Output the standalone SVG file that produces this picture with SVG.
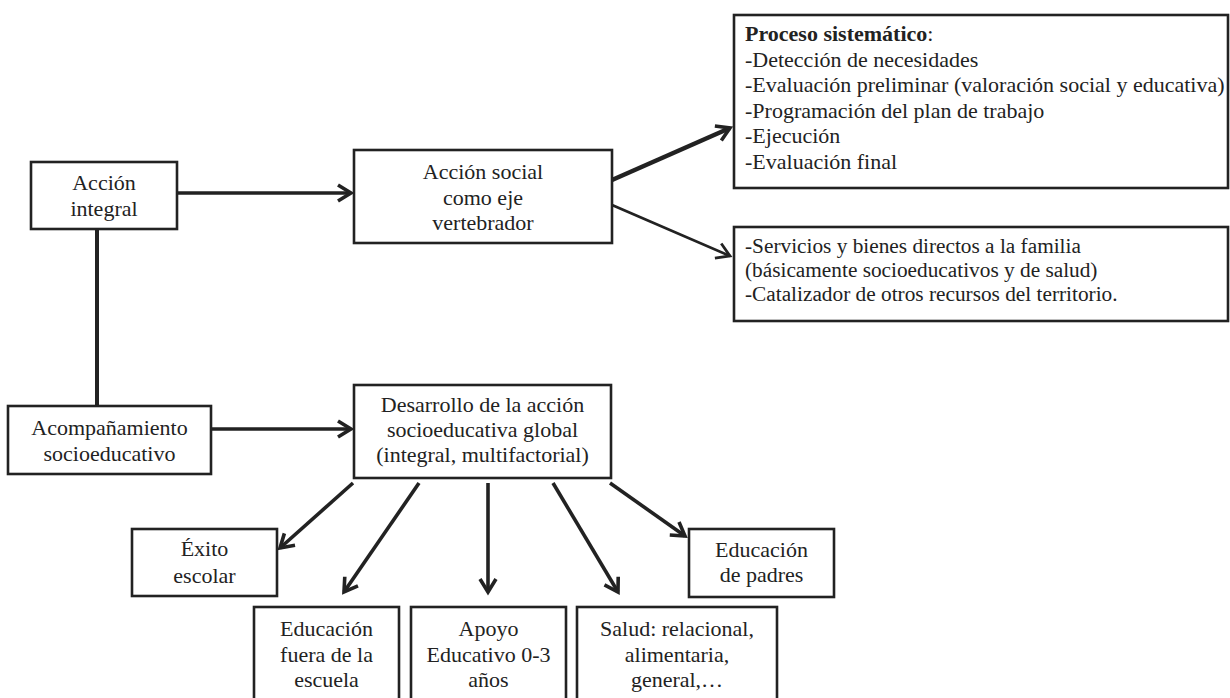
<svg xmlns="http://www.w3.org/2000/svg" width="1230" height="698" viewBox="0 0 1230 698">
<style>
.box{fill:#fff;stroke:#222;stroke-width:2.6}
.t{font-family:"Liberation Serif","Times New Roman",serif;font-size:22px;fill:#222}
.s{font-size:21.3px}
.c{text-anchor:middle}
.b{font-weight:bold}
.ln{stroke:#222;fill:none;stroke-linecap:butt}
</style>
<defs>
<marker id="ah" markerUnits="userSpaceOnUse" markerWidth="24" markerHeight="24" viewBox="0 0 24 24" refX="16" refY="10" orient="auto" overflow="visible">
<path d="M3,2 L16,10 L3,18" fill="none" stroke="#222" stroke-width="3.6" stroke-linejoin="miter"/>
</marker>
<marker id="ahThin" markerUnits="userSpaceOnUse" markerWidth="24" markerHeight="24" viewBox="0 0 24 24" refX="16" refY="10" orient="auto" overflow="visible">
<path d="M3,2 L16,10 L3,18" fill="none" stroke="#222" stroke-width="2.8" stroke-linejoin="miter"/>
</marker>
</defs>
<rect width="1230" height="698" fill="#fff"/>
<g id="connectors">
<line class="ln" x1="177" y1="193" x2="351" y2="193" stroke-width="3.6" marker-end="url(#ah)"/>
<line class="ln" x1="97" y1="229" x2="97" y2="406" stroke-width="4"/>
<line class="ln" x1="211" y1="429" x2="351" y2="429" stroke-width="3.6" marker-end="url(#ah)"/>
<line class="ln" x1="612" y1="180" x2="730" y2="128" stroke-width="4.6" marker-end="url(#ah)"/>
<line class="ln" x1="612" y1="205" x2="730" y2="256" stroke-width="2.6" marker-end="url(#ahThin)"/>
<line class="ln" x1="353" y1="483" x2="280" y2="548" stroke-width="3.6" marker-end="url(#ah)"/>
<line class="ln" x1="419" y1="483" x2="344" y2="592" stroke-width="3.6" marker-end="url(#ah)"/>
<line class="ln" x1="488" y1="483" x2="488" y2="592" stroke-width="3.6" marker-end="url(#ah)"/>
<line class="ln" x1="553" y1="483" x2="618" y2="592" stroke-width="3.6" marker-end="url(#ah)"/>
<line class="ln" x1="610" y1="483" x2="685" y2="536" stroke-width="3.6" marker-end="url(#ah)"/>
</g>
<g id="accion-integral">
<rect class="box" x="31" y="162" width="146" height="67"/>
<text class="t c" x="104" y="190">Acción</text>
<text class="t c" x="104" y="216">integral</text>
</g>
<g id="accion-social">
<rect class="box" x="354" y="150" width="258" height="93"/>
<text class="t c" x="483" y="179">Acción social</text>
<text class="t c" x="483" y="205">como eje</text>
<text class="t c" x="483" y="230">vertebrador</text>
</g>
<g id="proceso">
<rect class="box" x="734" y="15" width="494" height="173"/>
<text class="t" x="745" y="41"><tspan class="b">Proceso sistemático</tspan>:</text>
<text class="t" x="745" y="67">-Detección de necesidades</text>
<text class="t" x="745" y="92">-Evaluación preliminar (valoración social y educativa)</text>
<text class="t" x="745" y="118">-Programación del plan de trabajo</text>
<text class="t" x="745" y="143">-Ejecución</text>
<text class="t" x="745" y="169">-Evaluación final</text>
</g>
<g id="servicios">
<rect class="box" x="734" y="227" width="494" height="94"/>
<text class="t s" x="745" y="253">-Servicios y bienes directos a la familia</text>
<text class="t s" x="745" y="277">(básicamente socioeducativos y de salud)</text>
<text class="t s" x="745" y="301">-Catalizador de otros recursos del territorio.</text>
</g>
<g id="acompanamiento">
<rect class="box" x="8" y="406" width="203" height="68"/>
<text class="t c" x="109.5" y="435">Acompañamiento</text>
<text class="t c" x="109.5" y="461">socioeducativo</text>
</g>
<g id="desarrollo">
<rect class="box" x="354" y="385" width="257" height="93"/>
<text class="t c" x="482.5" y="412">Desarrollo de la acción</text>
<text class="t c" x="482.5" y="437">socioeducativa global</text>
<text class="t c" x="482.5" y="462">(integral, multifactorial)</text>
</g>
<g id="exito">
<rect class="box" x="132" y="529" width="145" height="67"/>
<text class="t c" x="204.5" y="556">Éxito</text>
<text class="t c" x="204.5" y="583">escolar</text>
</g>
<g id="educacion-fuera">
<rect class="box" x="254" y="607" width="145" height="96"/>
<text class="t c" x="326.5" y="636">Educación</text>
<text class="t c" x="326.5" y="662">fuera de la</text>
<text class="t c" x="326.5" y="687">escuela</text>
</g>
<g id="apoyo">
<rect class="box" x="411" y="607" width="155" height="96"/>
<text class="t c" x="488.5" y="636">Apoyo</text>
<text class="t c" x="488.5" y="662">Educativo 0-3</text>
<text class="t c" x="488.5" y="687">años</text>
</g>
<g id="salud">
<rect class="box" x="577" y="607" width="200" height="96"/>
<text class="t c" x="677" y="636">Salud: relacional,</text>
<text class="t c" x="677" y="662">alimentaria,</text>
<text class="t c" x="677" y="687">general,…</text>
</g>
<g id="educacion-padres">
<rect class="box" x="689" y="529" width="145" height="68"/>
<text class="t c" x="761.5" y="557">Educación</text>
<text class="t c" x="761.5" y="582">de padres</text>
</g>
</svg>
